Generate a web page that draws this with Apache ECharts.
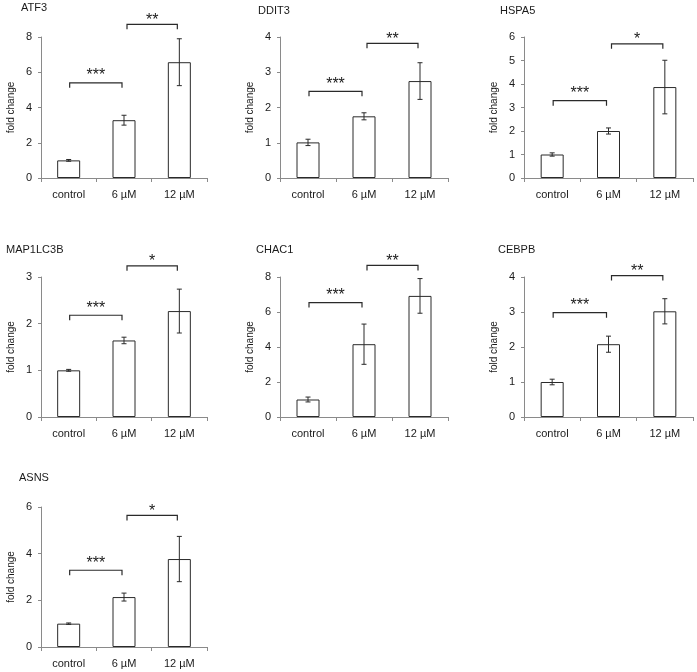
<!DOCTYPE html>
<html>
<head>
<meta charset="utf-8">
<script src="https://cdn.jsdelivr.net/npm/echarts@6/dist/echarts.min.js"></script>
<style>
html,body{margin:0;padding:0;background:#fff;}
#chart{width:697px;height:672px;}
</style>
</head>
<body>
<div id="chart"></div>
<script>
// ---- data ----
const categories = ['control', '6 µM', '12 µM'];
const geneNames = ['ATF3', 'DDIT3', 'HSPA5', 'MAP1LC3B', 'CHAC1', 'CEBPB', 'ASNS'];

const atf3Mean = [1.0, 3.28, 6.57];
const atf3Err = [0.05, 0.28, 1.33];
const ddit3Mean = [1.01, 1.75, 2.75];
const ddit3Err = [0.09, 0.10, 0.52];
const hspa5Mean = [1.0, 2.0, 3.87];
const hspa5Err = [0.07, 0.13, 1.14];
const map1lc3bMean = [1.0, 1.64, 2.27];
const map1lc3bErr = [0.02, 0.07, 0.47];
const chac1Mean = [1.0, 4.16, 6.92];
const chac1Err = [0.14, 1.15, 0.99];
const cebpbMean = [1.0, 2.08, 3.02];
const cebpbErr = [0.08, 0.23, 0.36];
const asnsMean = [1.0, 2.14, 3.77];
const asnsErr = [0.03, 0.17, 0.97];

// significance brackets: height (data units) for control–6µM and 6µM–12µM
const atf3Brackets = [5.4, 8.72];
const ddit3Brackets = [2.46, 3.82];
const hspa5Brackets = [3.29, 5.71];
const map1lc3bBrackets = [2.18, 3.24];
const chac1Brackets = [6.54, 8.66];
const cebpbBrackets = [2.98, 4.04];
const asnsBrackets = [3.29, 5.64];

const atf3Stars = ['***', '**'];
const ddit3Stars = ['***', '**'];
const hspa5Stars = ['***', '*'];
const map1lc3bStars = ['***', '*'];
const chac1Stars = ['***', '**'];
const cebpbStars = ['***', '**'];
const asnsStars = ['***', '*'];

// y axis ranges and tick intervals
const yMaxes = [8, 4, 6, 3, 8, 4, 6];
const yIntervals = [2, 1, 1, 1, 2, 1, 2];

const means = [atf3Mean, ddit3Mean, hspa5Mean, map1lc3bMean, chac1Mean, cebpbMean, asnsMean];
const errs = [atf3Err, ddit3Err, hspa5Err, map1lc3bErr, chac1Err, cebpbErr, asnsErr];
const brackets = [atf3Brackets, ddit3Brackets, hspa5Brackets, map1lc3bBrackets, chac1Brackets, cebpbBrackets, asnsBrackets];
const starsList = [atf3Stars, ddit3Stars, hspa5Stars, map1lc3bStars, chac1Stars, cebpbStars, asnsStars];

// ---- layout ----
const colLeft = [41, 280, 524];
const colWidth = [166, 168, 169];
const rowTop = [37, 277, 507];
const rowHeight = [141, 140, 140];
const titleX = [21, 258, 500, 6, 256, 498, 19];
const titleY = [2, 5, 5, 244, 244, 244, 472];
const FONT = 'Liberation Sans, Arial, sans-serif';
const TXT = '#1a1a1a';
const AX = '#8a8a8a';

const chart = echarts.init(document.getElementById('chart'), null, {renderer: 'canvas'});

const grids = [], xAxes = [], yAxes = [], series = [], titles = [];

geneNames.forEach((name, g) => {
  const col = g % 3, row = Math.floor(g / 3);
  grids.push({left: colLeft[col], top: rowTop[row], width: colWidth[col], height: rowHeight[row], containLabel: false});
  titles.push({text: name, left: titleX[g], top: titleY[g], padding: 0,
    textStyle: {fontFamily: FONT, fontSize: 11, fontWeight: 'normal', color: TXT}});
  xAxes.push({
    type: 'category', gridIndex: g, data: categories,
    axisLine: {lineStyle: {color: AX, width: 1}},
    axisTick: {show: true, length: 4, lineStyle: {color: AX}},
    axisLabel: {fontFamily: FONT, fontSize: 11, color: TXT, margin: 11}
  });
  yAxes.push({
    type: 'value', gridIndex: g, min: 0, max: yMaxes[g], interval: yIntervals[g],
    name: 'fold change', nameLocation: 'middle', nameGap: 25,
    nameTextStyle: {fontFamily: FONT, fontSize: 10, color: TXT},
    axisLine: {show: true, lineStyle: {color: AX, width: 1}},
    axisTick: {show: true, length: 3, lineStyle: {color: AX}},
    splitLine: {show: false},
    axisLabel: {fontFamily: FONT, fontSize: 11, color: TXT, margin: 9}
  });
  series.push({
    type: 'bar', xAxisIndex: g, yAxisIndex: g, barWidth: 23,
    data: means[g],
    itemStyle: {color: '#fff', borderColor: '#2a2a2a', borderWidth: 1},
    silent: true, z: 2
  });
  series.push({
    type: 'custom', xAxisIndex: g, yAxisIndex: g, z: 3, silent: true, clip: false,
    data: means[g].map((m, i) => [i, m, errs[g][i]]),
    renderItem: function (params, api) {
      const i = api.value(0), m = api.value(1), e = api.value(2);
      const top = api.coord([i, m + e]);
      const bot = api.coord([i, m - e]);
      const x = top[0], hw = 2.5;
      const st = {stroke: '#2a2a2a', lineWidth: 1, fill: null};
      return {type: 'group', children: [
        {type: 'line', shape: {x1: x, y1: top[1], x2: x, y2: bot[1]}, style: st},
        {type: 'line', shape: {x1: x - hw, y1: top[1], x2: x + hw, y2: top[1]}, style: st},
        {type: 'line', shape: {x1: x - hw, y1: bot[1], x2: x + hw, y2: bot[1]}, style: st}
      ]};
    }
  });
  const stars = starsList[g];
  series.push({
    type: 'custom', xAxisIndex: g, yAxisIndex: g, z: 4, silent: true, clip: false,
    data: brackets[g].map((h, k) => [k, h]),
    renderItem: function (params, api) {
      const k = params.dataIndex;
      const i = api.value(0), h = api.value(1);
      const p0 = api.coord([i, h]), p1 = api.coord([i + 1, h]);
      const x0 = p0[0] + (k === 0 ? 1 : 3), x1 = p1[0] - 2, y = p0[1];
      const gap = k === 0 ? 7 : 4;
      return {type: 'group', children: [
        {type: 'polyline', shape: {points: [[x0, y + 5], [x0, y], [x1, y], [x1, y + 5]]},
          style: {stroke: '#2a2a2a', lineWidth: 1.2, fill: null}},
        {type: 'text', style: {text: stars[k], x: (x0 + x1) / 2, y: y - gap,
          align: 'center', verticalAlign: 'middle', font: '16px ' + FONT, fill: TXT}}
      ]};
    }
  });
});

chart.setOption({
  animation: false,
  backgroundColor: '#fff',
  title: titles,
  grid: grids,
  xAxis: xAxes,
  yAxis: yAxes,
  series: series
});
</script>
</body>
</html>
